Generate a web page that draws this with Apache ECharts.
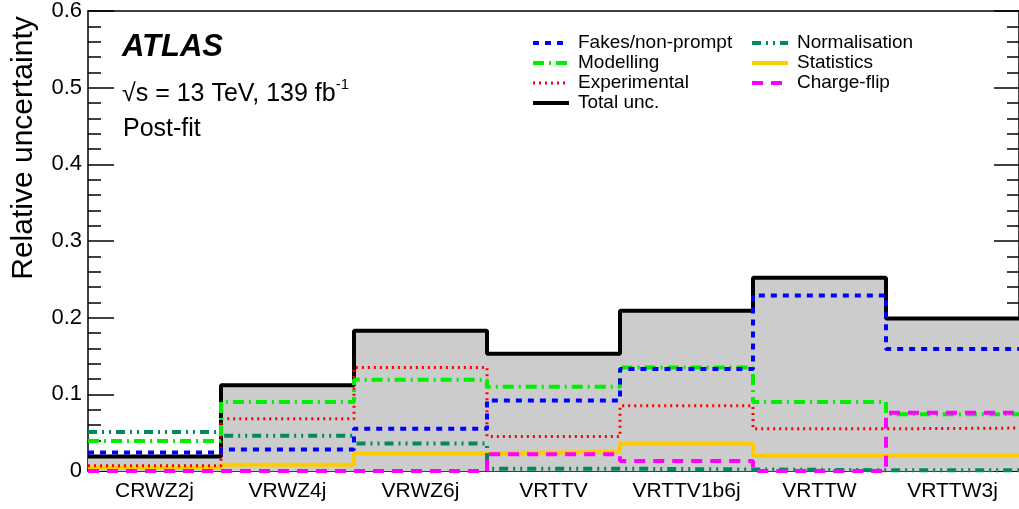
<!DOCTYPE html>
<html>
<head>
<meta charset="utf-8">
<script src="https://cdn.jsdelivr.net/npm/echarts@6/dist/echarts.min.js"></script>
<style>
html,body{margin:0;padding:0;background:#fff;}
#chart{width:1019px;height:509px;}
</style>
</head>
<body>
<div id="chart"></div>
<script>
const categories = ['CRWZ2j','VRWZ4j','VRWZ6j','VRTTV','VRTTV1b6j','VRTTW','VRTTW3j'];
const fakes        = [0.024, 0.028, 0.055, 0.092, 0.133, 0.229, 0.159];
const modelling    = [0.039, 0.090, 0.119, 0.110, 0.135, 0.090, 0.074];
const experimental = [0.007, 0.068, 0.135, 0.045, 0.085, 0.055, 0.056];
const totalUnc     = [0.019, 0.112, 0.183, 0.153, 0.209, 0.252, 0.199];
const normalisation= [0.051, 0.046, 0.036, 0.003, 0.002, 0.001, 0.001];
const statistics   = [0.004, 0.008, 0.023, 0.025, 0.036, 0.020, 0.021];
const chargeFlip   = [0.000, 0.000, 0.000, 0.022, 0.013, 0.000, 0.076];
const yTickLabels  = ['0','0.1','0.2','0.3','0.4','0.5','0.6'];

const FONT = 'Liberation Sans, Arial, Helvetica, sans-serif';

function toStep(vals){
  const pts = vals.map((v,i)=>[i,v]);
  pts.push([vals.length, vals[vals.length-1]]);
  return pts;
}
function lineSeries(name, vals, color, width, type){
  return {
    name: name, type: 'line', step: 'end', xAxisIndex: 1, yAxisIndex: 0,
    data: toStep(vals), symbol: 'none', showSymbol: false, clip: false,
    lineStyle: {color: color, width: width, type: type, cap: 'butt'},
    itemStyle: {color: color},
    emphasis: {disabled: true}, animation: false
  };
}

const legendCommon = {
  orient: 'vertical', itemWidth: 36, itemHeight: 14, itemGap: 0,
  itemStyle: {opacity: 0, color: 'transparent', borderWidth: 0},
  lineStyle: {width: 'inherit', type: 'inherit', color: 'inherit'},
  textStyle: {color: '#000', fontSize: 19, fontFamily: FONT, lineHeight: 20, padding: [0,0,0,4]},
  selectedMode: false
};

const chart = echarts.init(document.getElementById('chart'), null, {renderer:'canvas'});
const option = {
  animation: false,
  backgroundColor: '#ffffff',
  grid: {left: 88, right: 0, top: 9, bottom: 38, containLabel: false},
  xAxis: [
    {type: 'category', data: categories, position: 'bottom', boundaryGap: true,
     axisLine: {lineStyle: {color: '#000', width: 1.5}},
     axisTick: {inside: true, length: 12, interval: 0, lineStyle: {color: '#000', width: 1.5}},
     axisLabel: {color: '#000', fontSize: 21, fontFamily: FONT, margin: 10, interval: 0},
     splitLine: {show: false}},
    {type: 'value', min: 0, max: 7, interval: 1, show: false},
    {type: 'category', data: categories, position: 'top', boundaryGap: true,
     axisLine: {lineStyle: {color: '#000', width: 1.5}},
     axisTick: {inside: true, length: 13, interval: 0, lineStyle: {color: '#000', width: 1.5}},
     axisLabel: {show: false}, splitLine: {show: false}}
  ],
  yAxis: [
    {type: 'value', min: 0, max: 0.6, interval: 0.1, position: 'left',
     axisLine: {show: true, lineStyle: {color: '#000', width: 1.5}},
     axisTick: {show: true, inside: true, length: 26, lineStyle: {color: '#000', width: 1.5}},
     minorTick: {show: true, splitNumber: 5, length: 13, lineStyle: {color: '#000', width: 1.5}},
     axisLabel: {color: '#000', fontSize: 22, fontFamily: FONT, margin: 6,
       formatter: function(v){ return yTickLabels[Math.round(v*10)]; }},
     splitLine: {show: false}},
    {type: 'value', min: 0, max: 0.6, interval: 0.1, position: 'right',
     axisLine: {show: true, lineStyle: {color: '#000', width: 1.5}},
     axisTick: {show: true, inside: true, length: 25, lineStyle: {color: '#000', width: 1.5}},
     minorTick: {show: true, splitNumber: 5, length: 12, lineStyle: {color: '#000', width: 1.5}},
     axisLabel: {show: false}, splitLine: {show: false}}
  ],
  legend: [
    Object.assign({}, legendCommon, {left: 526, top: 28,
      data: ['Fakes/non-prompt','Modelling','Experimental','Total unc.']}),
    Object.assign({}, legendCommon, {left: 745, top: 28,
      data: ['Normalisation','Statistics','Charge-flip']})
  ],
  graphic: [
    {type: 'text', left: 122, top: 32, style: {text: 'ATLAS', fill: '#000',
      font: 'italic bold 31px ' + FONT}},
    {type: 'text', left: 122, top: 77, style: {
      text: '{a|√s = 13 TeV, 139 fb}{s|-1}',
      rich: {a: {fontSize: 25, fontFamily: FONT, fill: '#000', lineHeight: 30, verticalAlign: 'bottom'},
             s: {fontSize: 15, fontFamily: FONT, fill: '#000', lineHeight: 30, verticalAlign: 'top'}}}},
    {type: 'text', left: 123, top: 117, style: {text: 'Post-fit', fill: '#000',
      font: '25px ' + FONT}},
    {type: 'text', x: 24, y: 148, rotation: Math.PI/2, style: {text: 'Relative uncertainty',
      fill: '#000', font: '30px ' + FONT, align: 'center', verticalAlign: 'middle'}}
  ],
  series: [
    {name: 'fill', type: 'line', step: 'end', xAxisIndex: 1, yAxisIndex: 0,
     data: toStep(totalUnc), symbol: 'none', clip: false,
     lineStyle: {width: 0, opacity: 0}, areaStyle: {color: '#cccccc', opacity: 1},
     emphasis: {disabled: true}, silent: true},
    lineSeries('Total unc.', totalUnc, '#000000', 4, 'solid'),
    lineSeries('Statistics', statistics, '#ffcc00', 4, 'solid'),
    lineSeries('Normalisation', normalisation, '#008a5e', 4, [9,5,2,5,2,5]),
    lineSeries('Experimental', experimental, '#ff0000', 3, [2,4]),
    lineSeries('Modelling', modelling, '#00ee00', 4, [11,5,2,5]),
    lineSeries('Fakes/non-prompt', fakes, '#0000ff', 4, [6,6]),
    lineSeries('Charge-flip', chargeFlip, '#ff00ff', 4, [11,8])
  ]
};
chart.setOption(option);
</script>
</body>
</html>
